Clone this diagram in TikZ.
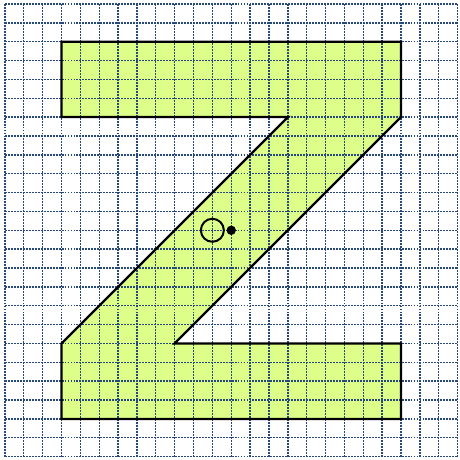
\documentclass[tikz,border=0pt]{standalone}
\usepackage{xcolor}
\definecolor{zlime}{RGB}{221,255,138}
\definecolor{gridblue}{RGB}{38,72,122}
\usetikzlibrary{positioning}
\tikzset{
  gridline/.style={draw=gridblue, line width=2.1pt, dash pattern=on 2.9pt off 1.6pt},
  zletter/.style={draw=black, line width=3.4pt, line join=miter},
  pivot/.style={draw, circle, line width=3pt, minimum size=1.22cm, inner sep=0pt},
  centre/.style={fill, circle, minimum size=0.5cm, inner sep=0pt},
}

\begin{document}
\begin{tikzpicture}
\useasboundingbox (-0.26,-0.18) rectangle (24.1,24.21);

% Letter Z: fill
\fill[zlime] (3,22) -- (21,22) -- (21,18) -- (9,6) -- (21,6) -- (21,2)
  -- (3,2) -- (3,6) -- (15,18) -- (3,18) -- cycle;

% Grid
\foreach \k in {0,...,24}{
  \draw[gridline] (\k,0) -- (\k,24);
  \draw[gridline] (0,\k) -- (24,\k);
}

% Letter Z: outline
\draw[zletter] (3,22) -- (21,22) -- (21,18) -- (9,6) -- (21,6) -- (21,2)
  -- (3,2) -- (3,6) -- (15,18) -- (3,18) -- cycle;

% Point O and centre
\node[pivot] (pointO) at (11,12) {};
\node[centre] (zcentre) at (12,12) {};

\end{tikzpicture}
\end{document}
